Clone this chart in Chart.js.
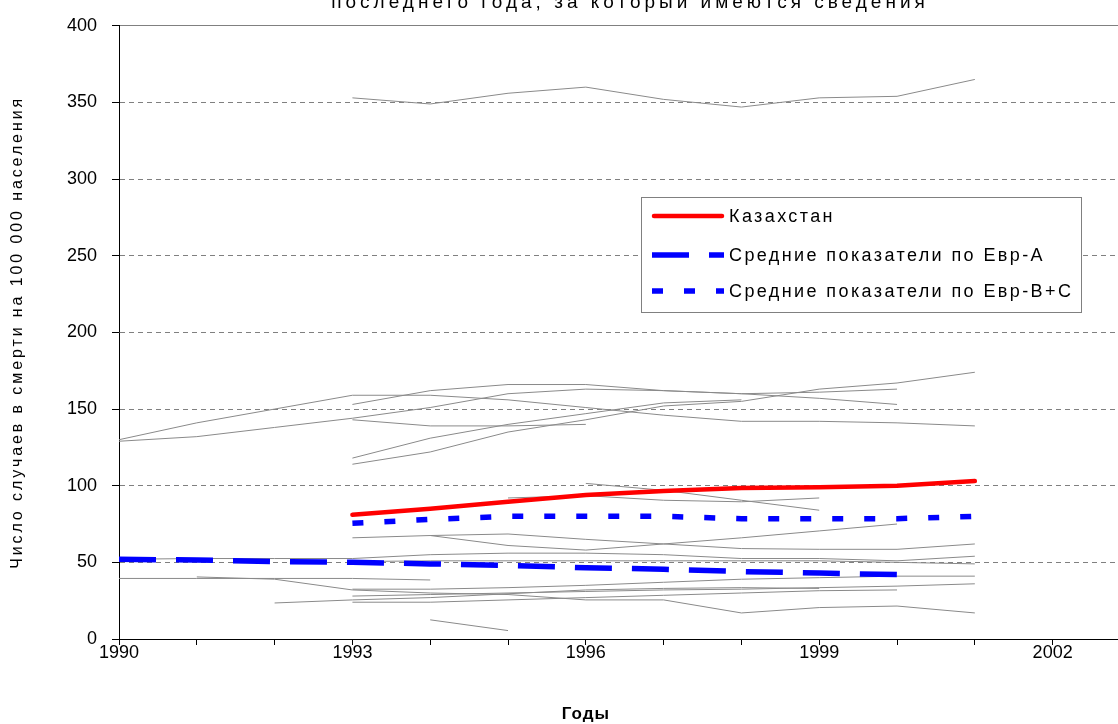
<!DOCTYPE html>
<html>
<head>
<meta charset="utf-8">
<script src="https://cdn.jsdelivr.net/npm/chart.js@4/dist/chart.umd.min.js"></script>
<style>
  html, body { margin: 0; padding: 0; background: #fff; overflow: hidden; }
</style>
</head>
<body>
<canvas id="chart" width="1118" height="724"></canvas>
<script>
const FONT = "'Liberation Sans', Arial, sans-serif";

const chartTitle = 'последнего года, за который имеются сведения';
const xTitle = 'Годы';
const yTitle = 'Число случаев в смерти на 100 000 населения';

const years = [1990, 1991, 1992, 1993, 1994, 1995, 1996, 1997, 1998, 1999, 2000, 2001];

// highlighted series
const kazakhstan = [null, null, null, 81, 85, 89.5, 94, 96.5, 98.5, 99, 100, 103];
const euroA      = [52, 51.5, 50.5, 50, 49, 48, 46.5, 45.5, 44, 43, 42, null];
const euroBC     = [null, null, null, 75.5, 78, 80, 80, 80, 78.5, 78.5, 78.5, 80];

// other countries of the region (thin grey lines)
const others = [
  [null, null, null, 353, 349, 356, 360, 352, 347, 353, 354, 365],
  [130, 141, 150, 159, 159, 156, 151, 146, 142, 142, 141, 139],
  [129, 132, 138, 144, 151, 160, 163, 162, 160, 161, 163, null],
  [null, null, null, 143, 139, 139, 140, null, null, null, null, null],
  [null, null, null, 118, 131, 140, 147, 154, 156, null, null, null],
  [null, null, null, 114, 122, 135, 143, 152, 155, 163, 167, 174],
  [null, null, null, 153, 162, 166, 166, 162, 160, 157, 153, null],
  [null, null, null, 66, 67.5, 68.5, 65, 62, 59, 58.5, 58.5, 62],
  [null, null, null, null, 67.5, 61, 58, 62, 66, 70.5, 75, null],
  [null, null, null, null, null, null, 101.5, 97, 90.5, 84, null, null],
  [null, null, null, null, null, 92, 93.5, 90.5, 89.5, 92, null, null],
  [52, 52.5, 52.5, 52.5, 55, 56, 56, 55, 52.5, 52.5, 51, 54],
  [null, null, null, 50.5, 51, 51, 51, 51, 51, 51, 50, 49],
  [39.5, 39.5, 39.5, 39.5, 38.5, null, null, null, null, null, null, null],
  [null, 40.5, 39, 32, 30, 29, 25.5, 25.5, 17, 20.5, 21.5, 17],
  [null, null, null, null, 12.5, 5.5, null, null, null, null, null, null],
  [null, null, null, 32.5, 32.5, 33.5, 35, 37, 39, 40, 41, 41],
  [null, null, null, 28, 29, 30, 31, 32, 32.5, 33.5, 34.5, 36],
  [null, null, null, 24, 24, 25.5, 27, 28.5, 30, 31.5, 32, null],
  [null, null, 23.5, 25.5, 27, 29.5, 32, 33, 33.5, 33, null, null]
];

const toPoints = vals => vals.map((v, i) => ({ x: years[i], y: v }));

const datasets = [
  {
    label: 'Казахстан',
    data: toPoints(kazakhstan),
    borderColor: '#ff0000',
    borderWidth: 4.5,
    borderCapStyle: 'round'
  },
  {
    label: 'Средние показатели по Евр-А',
    data: toPoints(euroA),
    borderColor: '#0000ff',
    borderWidth: 5.5,
    borderDash: [37, 20]
  },
  {
    label: 'Средние показатели по Евр-В+С',
    data: toPoints(euroBC),
    borderColor: '#0000ff',
    borderWidth: 5.5,
    borderDash: [11, 21]
  }
];
others.forEach(vals => {
  datasets.push({
    label: '',
    data: toPoints(vals),
    borderColor: '#8a8a8a',
    borderWidth: 1
  });
});

// axis titles and the cut-off chart title
const captions = {
  id: 'captions',
  afterDraw(chart) {
    const { ctx, chartArea, scales } = chart;
    ctx.save();
    ctx.fillStyle = '#000';
    ctx.textAlign = 'center';
    ctx.letterSpacing = '4px';
    ctx.font = '19px ' + FONT;
    ctx.textBaseline = 'alphabetic';
    ctx.fillText(chartTitle, 630, 8);

    ctx.letterSpacing = '1px';
    ctx.font = 'bold 17px ' + FONT;
    ctx.textBaseline = 'middle';
    ctx.fillText(xTitle, scales.x.getPixelForValue(1996), 714);

    ctx.letterSpacing = '2.9px';
    ctx.font = '16px ' + FONT;
    ctx.translate(18, (chartArea.top + chartArea.bottom) / 2);
    ctx.rotate(-Math.PI / 2);
    ctx.fillText(yTitle, 0, 0);
    ctx.restore();
  }
};

// legend box inside the plot, only for the three highlighted series
const legendBox = {
  id: 'legendBox',
  afterDraw(chart) {
    const ctx = chart.ctx;
    const bx = 641, by = 197, bw = 440, bh = 115;
    ctx.save();
    ctx.fillStyle = '#fff';
    ctx.fillRect(bx, by, bw, bh);
    ctx.strokeStyle = '#808080';
    ctx.lineWidth = 1;
    ctx.strokeRect(bx + 0.5, by + 0.5, bw, bh);
    const rows = [216, 255, 291];
    chart.data.datasets.slice(0, 3).forEach((ds, i) => {
      const y = rows[i];
      ctx.beginPath();
      ctx.strokeStyle = ds.borderColor;
      ctx.lineWidth = ds.borderWidth;
      ctx.lineCap = ds.borderCapStyle || 'butt';
      ctx.setLineDash(ds.borderDash || []);
      if (ds.borderCapStyle === 'round') {
        ctx.moveTo(654, y);
        ctx.lineTo(722, y);
      } else {
        ctx.moveTo(652, y);
        ctx.lineTo(724, y);
      }
      ctx.stroke();
      ctx.setLineDash([]);
      ctx.fillStyle = '#000';
      ctx.font = '18px ' + FONT;
      ctx.letterSpacing = '2.4px';
      ctx.textAlign = 'left';
      ctx.textBaseline = 'middle';
      ctx.fillText(ds.label, 729, y + 1);
    });
    ctx.restore();
  }
};

new Chart(document.getElementById('chart'), {
  type: 'line',
  data: { datasets },
  options: {
    responsive: false,
    animation: false,
    layout: { padding: { top: 21, right: 0, bottom: 0, left: 0 } },
    elements: {
      point: { radius: 0, hoverRadius: 0 },
      line: { tension: 0, fill: false }
    },
    plugins: {
      legend: { display: false },
      title: { display: false },
      tooltip: { enabled: false }
    },
    scales: {
      x: {
        type: 'linear',
        min: 1990,
        max: 2002.84,
        afterFit: s => { s.height = 85; },
        ticks: {
          stepSize: 1,
          includeBounds: false,
          autoSkip: false,
          maxRotation: 0,
          padding: -3,
          color: '#000',
          font: { family: FONT, size: 18 },
          callback: v => ((v - 1990) % 3 === 0 ? String(v) : '')
        },
        grid: { drawOnChartArea: false, tickLength: 6, tickColor: '#000' },
        border: { color: '#000', width: 1 }
      },
      y: {
        min: 0,
        max: 400,
        afterFit: s => { s.width = 119; },
        ticks: {
          stepSize: 50,
          padding: 15,
          color: '#000',
          font: { family: FONT, size: 18 }
        },
        grid: {
          color: c => (c.tick && c.tick.value === 0 ? 'rgba(0,0,0,0)' : '#808080'),
          lineWidth: 1,
          tickLength: 7,
          tickColor: '#000'
        },
        border: {
          color: '#000',
          width: 1,
          dash: c => (c.tick && c.tick.value === 400 ? [] : [5, 4])
        }
      }
    }
  },
  plugins: [captions, legendBox]
});
</script>
</body>
</html>
